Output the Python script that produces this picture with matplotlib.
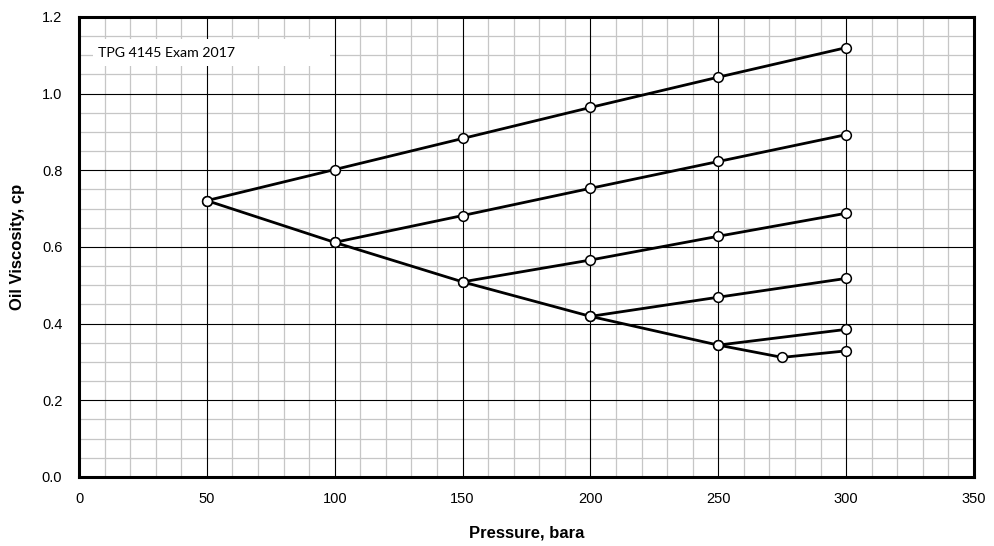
import matplotlib
matplotlib.use('Agg')
import matplotlib.pyplot as plt
from matplotlib.patches import Rectangle
from matplotlib.ticker import MultipleLocator

# saturated (main) curve
main_p = [50, 100, 150, 200, 250, 275, 300]
main_mu = [0.721, 0.612, 0.509, 0.419, 0.344, 0.312, 0.329]

# undersaturated branches (start pressure -> values)
b50_p = [50, 100, 150, 200, 250, 300]
b50_mu = [0.721, 0.802, 0.883, 0.964, 1.043, 1.120]
b100_p = [100, 150, 200, 250, 300]
b100_mu = [0.612, 0.682, 0.753, 0.823, 0.893]
b150_p = [150, 200, 250, 300]
b150_mu = [0.509, 0.566, 0.628, 0.688]
b200_p = [200, 250, 300]
b200_mu = [0.419, 0.469, 0.518]
b250_p = [250, 300]
b250_mu = [0.344, 0.385]

branches = [(b50_p, b50_mu), (b100_p, b100_mu), (b150_p, b150_mu),
            (b200_p, b200_mu), (b250_p, b250_mu), (main_p, main_mu)]

plt.rcParams['font.family'] = 'Liberation Sans'

fig = plt.figure(figsize=(9.95, 5.46), dpi=100)
ax = fig.add_axes([0.0794, 0.1264, 0.8995, 0.8425])

for p, mu in branches:
    ax.plot(p, mu, color='black', lw=2, marker='o', markersize=7,
            markerfacecolor='white', markeredgecolor='black',
            markeredgewidth=1.1, zorder=4)

ax.set_xlim(0, 350)
ax.set_ylim(0, 1.2)
ax.xaxis.set_major_locator(MultipleLocator(50))
ax.xaxis.set_minor_locator(MultipleLocator(10))
ax.yaxis.set_major_locator(MultipleLocator(0.2))
ax.yaxis.set_minor_locator(MultipleLocator(0.05))
ax.yaxis.set_major_formatter(matplotlib.ticker.FormatStrFormatter('%.1f'))

# minor grid from the axis, major grid drawn on top of it
ax.grid(which='minor', color='#c6c6c6', lw=0.9)
ax.set_axisbelow(True)
ax.vlines(ax.get_xticks(), 0, 1.2, color='black', lw=0.8, zorder=1)
ax.hlines(ax.get_yticks(), 0, 350, color='black', lw=0.8, zorder=1)
ax.set_xlim(0, 350)
ax.set_ylim(0, 1.2)

ax.tick_params(which='both', length=0)
ax.tick_params(axis='x', pad=11, labelsize=10.5)
ax.tick_params(axis='y', pad=12, labelsize=10.5)

for s in ax.spines.values():
    s.set_linewidth(2.2)
    s.set_zorder(5)

ax.set_xlabel('Pressure, bara', fontsize=12, fontweight='bold')
ax.set_ylabel('Oil Viscosity, cp', fontsize=12, fontweight='bold')
ax.xaxis.set_label_coords(0.5, -0.105)
ax.yaxis.set_label_coords(-0.06, 0.5)

# label box
ax.add_patch(Rectangle((5.5, 1.072), 92.5, 0.071, facecolor='white',
                       edgecolor='none', zorder=2))
ax.text(7.4, 1.106, 'TPG 4145 Exam 2017', fontsize=10.2, family='Lato',
        va='center', ha='left', zorder=3)

fig.savefig('out.png', dpi=100)
